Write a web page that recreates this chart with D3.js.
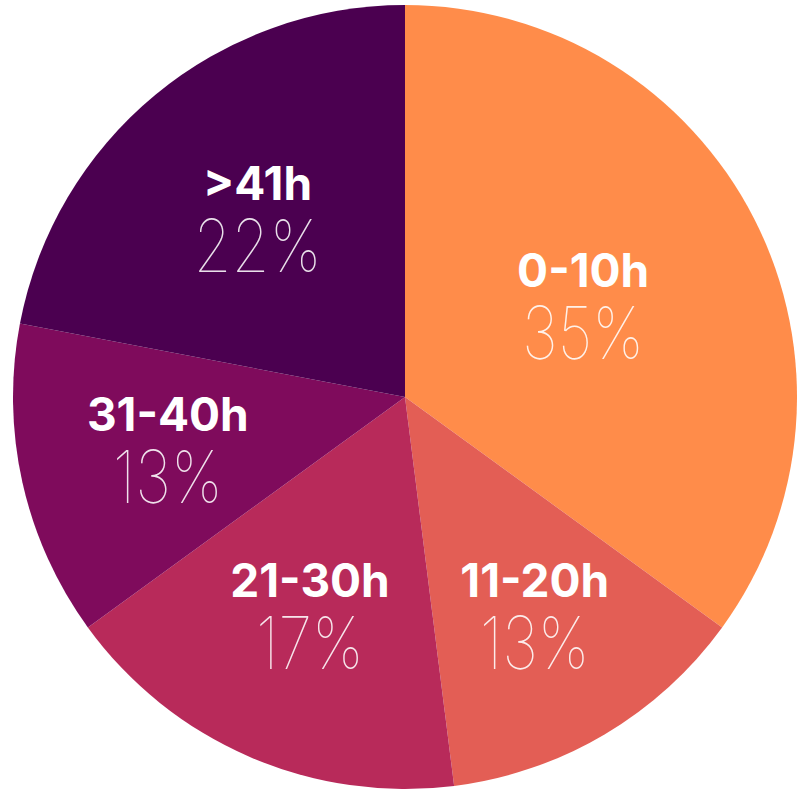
<!DOCTYPE html>
<html>
<head>
<meta charset="utf-8">
<script src="https://cdn.jsdelivr.net/npm/d3@7"></script>
<style>
  html, body { margin: 0; padding: 0; background: #fff; }
  svg { display: block; }
  .label { font-family: Inter, "Open Sans", sans-serif; font-weight: 700; fill: #fff; }
  .pct { font-family: Inter, Lato, sans-serif; font-weight: 100; fill: #fff; fill-opacity: 0.88; }
</style>
</head>
<body>
<svg id="chart"></svg>
<script>
// hours spent, share of respondents
const categories = ['0-10h', '11-20h', '21-30h', '31-40h', '>41h'];
const shares = [35, 13, 17, 13, 22];
const colors = ['#ff8c4a', '#e35e55', '#b82a5a', '#7f0b5c', '#4b0050'];

// label distance from centre, as a fraction of the radius
const labelRadius = [0.51, 0.65, 0.61, 0.62, 0.59];

const width = 797, height = 793;
const cx = 405, cy = 397, radius = 392;

const svg = d3.select('#chart')
  .attr('width', width)
  .attr('height', height);

const g = svg.append('g')
  .attr('transform', `translate(${cx},${cy})`);

const data = categories.map((c, i) => ({ name: c, value: shares[i], i }));

const pie = d3.pie()
  .sort(null)
  .value(d => d.value);

const arc = d3.arc()
  .innerRadius(0)
  .outerRadius(radius);

const arcs = pie(data);

g.selectAll('path')
  .data(arcs)
  .enter().append('path')
  .attr('d', arc)
  .attr('fill', d => colors[d.data.i]);

// labels
const lbl = g.selectAll('.slice-label')
  .data(arcs)
  .enter().append('g')
  .attr('class', 'slice-label')
  .attr('transform', d => {
    const r = radius * labelRadius[d.data.i];
    const c = d3.arc().innerRadius(r).outerRadius(r).centroid(d);
    return `translate(${c[0]},${c[1]})`;
  });

lbl.append('text')
  .attr('class', 'label')
  .attr('text-anchor', 'middle')
  .attr('y', -19)
  .style('font-size', '46px')
  .text(d => d.data.name);

// thin percentage, squeezed a bit to match the narrow face of the original
lbl.append('text')
  .attr('class', 'pct')
  .attr('text-anchor', 'middle')
  .attr('transform', 'translate(0,53) scale(0.84,1)')
  .style('font-size', '73px')
  .text(d => d.data.value + '%');
</script>
</body>
</html>
